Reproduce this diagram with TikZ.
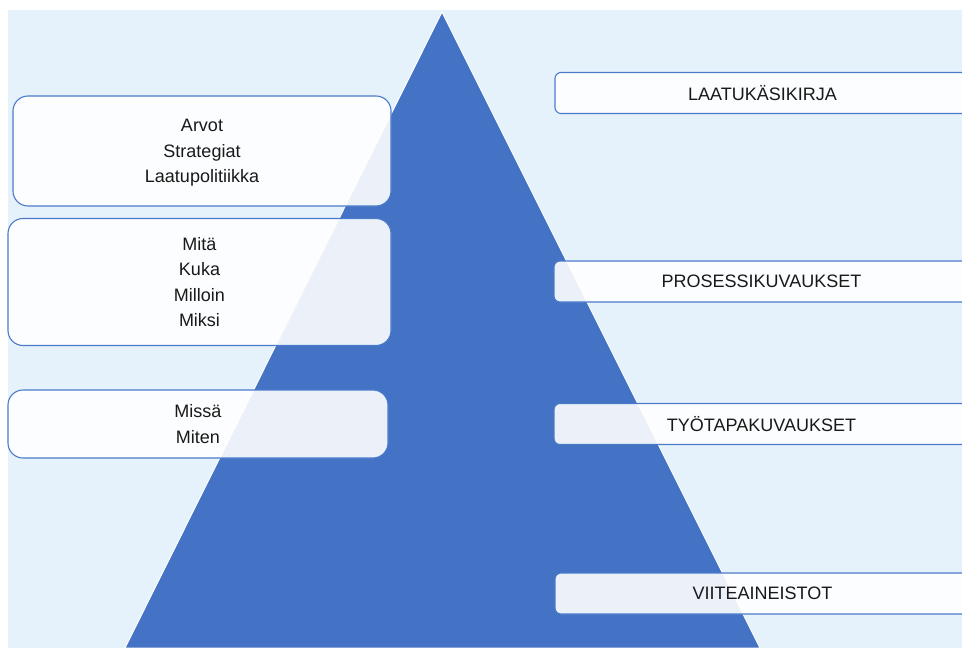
\documentclass[tikz,border=0pt]{standalone}
\usepackage{fontspec}
\setmainfont{Liberation Sans}
\definecolor{bgblue}{HTML}{E6F2FB}
\definecolor{pyr}{HTML}{4472C4}
\definecolor{boxline}{HTML}{4A7BCB}
\tikzset{
  lbox/.style={draw=boxline, line width=1.1pt, fill=white, fill opacity=0.9, text opacity=1,
    rounded corners=15pt, align=center, inner sep=0pt,
    font=\fontsize{18}{25.5}\selectfont, text=black!90},
  rbox/.style={lbox, rounded corners=6pt, minimum width=415pt, minimum height=41pt},
  ltext/.style={align=center, inner sep=0pt, font=\fontsize{18}{25.5}\selectfont, text=black!90}
}
\begin{document}
\begin{tikzpicture}[x=1pt,y=-1pt]
\useasboundingbox (0,0) rectangle (962,648);
\begin{scope}
\clip (0,0) rectangle (962,648);
\fill[bgblue] (8,10) rectangle (962,648);
\draw[fill=pyr, draw=white, line width=1pt] (442,12) -- (760,648) -- (125,648) -- cycle;
\node[lbox, minimum width=378pt, minimum height=110pt] (b1) at (202,151) {};
\node[ltext] (b1t) at (202,153) {Arvot\\Strategiat\\Laatupolitiikka};
\node[lbox, minimum width=383pt, minimum height=127pt] (b2) at (199.5,282) {Mitä\\Kuka\\Milloin\\Miksi};
\node[lbox, minimum width=380pt, minimum height=68pt] (b3) at (198,424) {Missä\\Miten};
\node[rbox] (r1) at (762.5,93) {LAATUKÄSIKIRJA};
\node[rbox] (r2) at (761.5,281.5) {PROSESSIKUVAUKSET};
\node[rbox] (r3) at (761.5,424) {TYÖTAPAKUVAUKSET};
\node[rbox] (r4) at (762.5,593.5) {VIITEAINEISTOT};
\end{scope}
\end{tikzpicture}
\end{document}
